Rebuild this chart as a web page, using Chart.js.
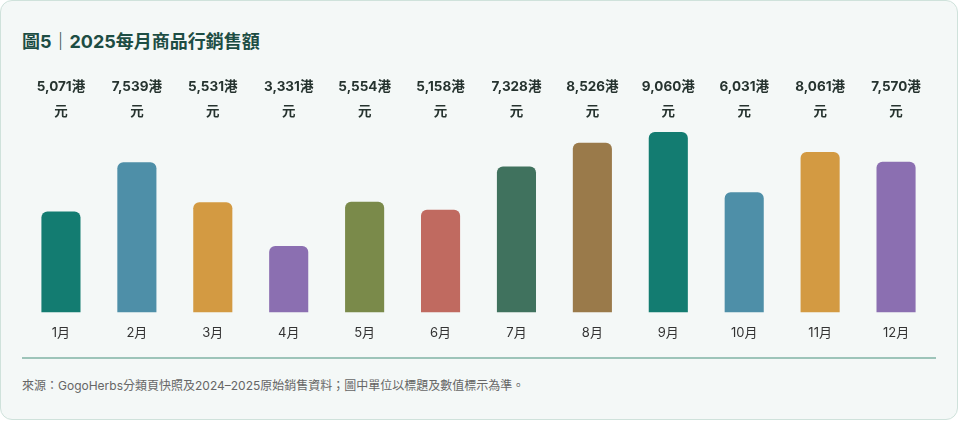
<!DOCTYPE html>
<html lang="zh-TW"><head><meta charset="utf-8">
<script src="https://cdn.jsdelivr.net/npm/chart.js@4"></script>
<style>
html,body{margin:0;padding:0;background:#ffffff;width:960px;height:422px;overflow:hidden;}
body{font-family:Inter,"Noto Sans CJK TC",sans-serif;}
#card{position:absolute;left:0;top:0;width:956px;height:418px;border:1px solid #cfe2db;border-radius:12px;background:#f4f8f7;}
#title{position:absolute;left:22px;top:27px;font-size:18px;font-weight:700;color:#1d4d44;white-space:nowrap;}
#wrap{position:absolute;left:23px;top:70px;width:911px;height:284px;}
#sep{position:absolute;left:22px;top:357px;width:914px;height:2px;background:#9dc4b9;}
#foot{position:absolute;left:22px;top:376px;font-size:12px;color:#666;white-space:nowrap;font-family:Inter,"Noto Sans CJK TC",sans-serif;}
</style></head>
<body>
<div id="card"></div>
<div id="title">圖5｜2025每月商品行銷售額</div>
<div id="wrap"><canvas id="c"></canvas></div>
<div id="sep"></div>
<div id="foot" lang="zh-TW">來源：GogoHerbs分類頁快照及2024–2025原始銷售資料；圖中單位以標題及數值標示為準。</div>
<script>
const months = ["1月","2月","3月","4月","5月","6月","7月","8月","9月","10月","11月","12月"];
const sales = [5071,7539,5531,3331,5554,5158,7328,8526,9060,6031,8061,7570];
const unit = "港元";
const palette = ["#137c71","#4e8fa8","#d39a42","#8b6fb1","#7a8a4a","#c06a60","#40725e","#9a7a4a"];
const barColors = months.map((m,i)=>palette[i%palette.length]);

const topLabels = {
  id:"topLabels",
  afterDatasetsDraw(chart){
    const ctx = chart.ctx, xs = chart.scales.x, top = chart.chartArea.top;
    ctx.save();
    ctx.font = "700 13.5px Inter, 'Noto Sans CJK TC', sans-serif";
    ctx.fillStyle = "#26332f";
    ctx.textAlign = "center";
    ctx.textBaseline = "middle";
    const maxW = 60;
    sales.forEach((v,i)=>{
      const text = v.toLocaleString("en-US") + unit;
      const lines = []; let cur = "";
      for (const ch of text){
        if (ctx.measureText(cur+ch).width > maxW && cur){ lines.push(cur); cur = ch; }
        else cur += ch;
      }
      if (cur) lines.push(cur);
      const x = xs.getPixelForValue(i);
      lines.forEach((l,j)=>ctx.fillText(l, x, top - 45 + j*25));
    });
    ctx.restore();
  }
};

new Chart(document.getElementById("c"),{
  type:"bar",
  data:{labels:months,datasets:[{data:sales,backgroundColor:barColors,borderRadius:{topLeft:6,topRight:6,bottomLeft:0,bottomRight:0},borderSkipped:"bottom",categoryPercentage:1,barPercentage:0.515}]},
  options:{
    responsive:true,maintainAspectRatio:false,animation:false,
    layout:{padding:{top:62,left:0,right:0,bottom:0}},
    plugins:{legend:{display:false},tooltip:{enabled:false}},
    scales:{
      x:{grid:{display:false,drawTicks:false},border:{display:false},
         ticks:{padding:13,color:"#333",font:{family:"Inter, 'Noto Sans CJK TC', sans-serif",size:13}}},
      y:{display:false,min:0,max:Math.max(...sales),grace:0}
    }
  },
  plugins:[topLabels]
});
</script>
</body></html>
